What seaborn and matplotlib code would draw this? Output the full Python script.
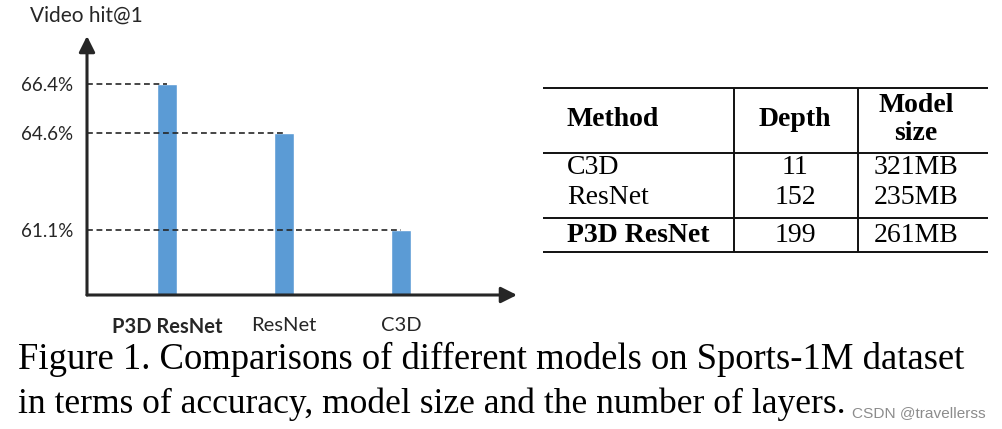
import numpy as np
import pandas as pd
import matplotlib
matplotlib.use("Agg")
import matplotlib.pyplot as plt
import seaborn as sns

# ---- data ----
models = ["P3D ResNet", "ResNet", "C3D"]
hit1 = [66.4, 64.6, 61.1]
tick_labels = ["66.4%", "64.6%", "61.1%"]

table_methods = ["C3D", "ResNet", "P3D ResNet"]
table_depth = ["11", "152", "199"]
table_size = ["321MB", "235MB", "261MB"]
table_headers = ["Method", "Depth", "Model\nsize"]

caption_lines = ["Figure 1. Comparisons of different models on Sports-1M dataset",
                 "in terms of accuracy, model size and the number of layers."]
watermark = "CSDN @travellerss"

sns.set_theme(style="white")
plt.rcParams["font.family"] = ["Lato", "DejaVu Sans"]

W, H = 1002, 429
fig = plt.figure(figsize=(W / 100, H / 100), dpi=100)

def fx(px):
    return px / W

def fy(py):
    return 1 - py / H

# ---- bar chart ----
ax_left, ax_right, ax_bottom, ax_top = 87, 517, 295, 36
ax = fig.add_axes([fx(ax_left), fy(ax_bottom), fx(ax_right - ax_left), (ax_bottom - ax_top) / H])
df = pd.DataFrame({"model": models, "hit": hit1})
blue = "#5B9BD5"
sns.barplot(data=df, x="model", y="hit", order=models, color=blue, width=0.17,
            saturation=1, ax=ax, zorder=2)
ax.set_xlim(-0.684, 2.99)
ax.set_ylim(58.74, 68.13)
for s in ax.spines.values():
    s.set_visible(False)
ax.set_xlabel("")
ax.set_ylabel("")
ax.set_yticks(hit1)
ax.set_yticklabels(tick_labels)
ax.tick_params(axis="y", length=0, pad=10, labelsize=13.5, labelcolor="#262626")
ax.tick_params(axis="x", length=0, pad=16, labelsize=14.5, labelcolor="#262626")
for lbl in ax.get_xticklabels():
    if lbl.get_text() == "P3D ResNet":
        lbl.set_fontweight("bold")
ax.grid(False)

# dashed guide lines
ax.hlines(hit1, xmin=-0.684, xmax=np.arange(len(hit1)), colors="#262626",
          linestyles=(0, (3.5, 2.2)), lw=1.2, zorder=3)

# axes with arrows
arrow_kw = dict(arrowstyle="-|>,head_length=0.8,head_width=0.4", color="#262626", lw=2.2,
                shrinkA=0, shrinkB=0)
ax.annotate("", xy=(0, 1), xytext=(0, 0), xycoords="axes fraction", arrowprops=arrow_kw,
            annotation_clip=False)
ax.annotate("", xy=(1, 0), xytext=(0, 0), xycoords="axes fraction", arrowprops=arrow_kw,
            annotation_clip=False)

fig.text(fx(30), fy(16), "Video hit@1", ha="left", va="center", fontsize=15, color="#262626")

# ---- table ----
ov = fig.add_axes([0, 0, 1, 1])
ov.set_xlim(0, W)
ov.set_ylim(H, 0)
ov.axis("off")

serif = ["Liberation Serif", "DejaVu Serif"]
tsize = 20
lc = "#111111"
for y in [88, 153, 218, 252]:
    ov.plot([543, 988], [y, y], color=lc, lw=1.4, solid_capstyle="butt")
for x in [734, 858]:
    ov.plot([x, x], [88, 252], color=lc, lw=1.4, solid_capstyle="butt")

col_x = [567, 795, 916]
ov.text(col_x[0], 120, table_headers[0], ha="left", va="center", fontsize=tsize,
        fontweight="bold", family=serif, color="black")
ov.text(col_x[1], 120, table_headers[1], ha="center", va="center", fontsize=tsize,
        fontweight="bold", family=serif, color="black")
for j, part in enumerate(table_headers[2].split("\n")):
    ov.text(col_x[2], [105, 133][j], part, ha="center", va="center", fontsize=tsize,
            fontweight="bold", family=serif, color="black")
row_y = [167, 197, 235]
for i, (m, d, s) in enumerate(zip(table_methods, table_depth, table_size)):
    w = "bold" if i == len(table_methods) - 1 else "normal"
    ov.text(col_x[0], row_y[i], m, ha="left", va="center", fontsize=tsize, fontweight=w,
            family=serif, color="black")
    ov.text(col_x[1], row_y[i], d, ha="center", va="center", fontsize=tsize,
            family=serif, color="black")
    ov.text(col_x[2], row_y[i], s, ha="center", va="center", fontsize=tsize,
            family=serif, color="black")

# ---- caption ----
ov.text(18, 369, caption_lines[0], ha="left", va="baseline", fontsize=26.4, family=serif,
        color="black")
ov.text(18, 413, caption_lines[1], ha="left", va="baseline", fontsize=25.6, family=serif,
        color="black")
ov.text(852, 413, watermark, ha="left", va="center", fontsize=11.1,
        family=["Liberation Sans", "DejaVu Sans"], color="#8c8c8c")

fig.savefig("out.png", dpi=100)
